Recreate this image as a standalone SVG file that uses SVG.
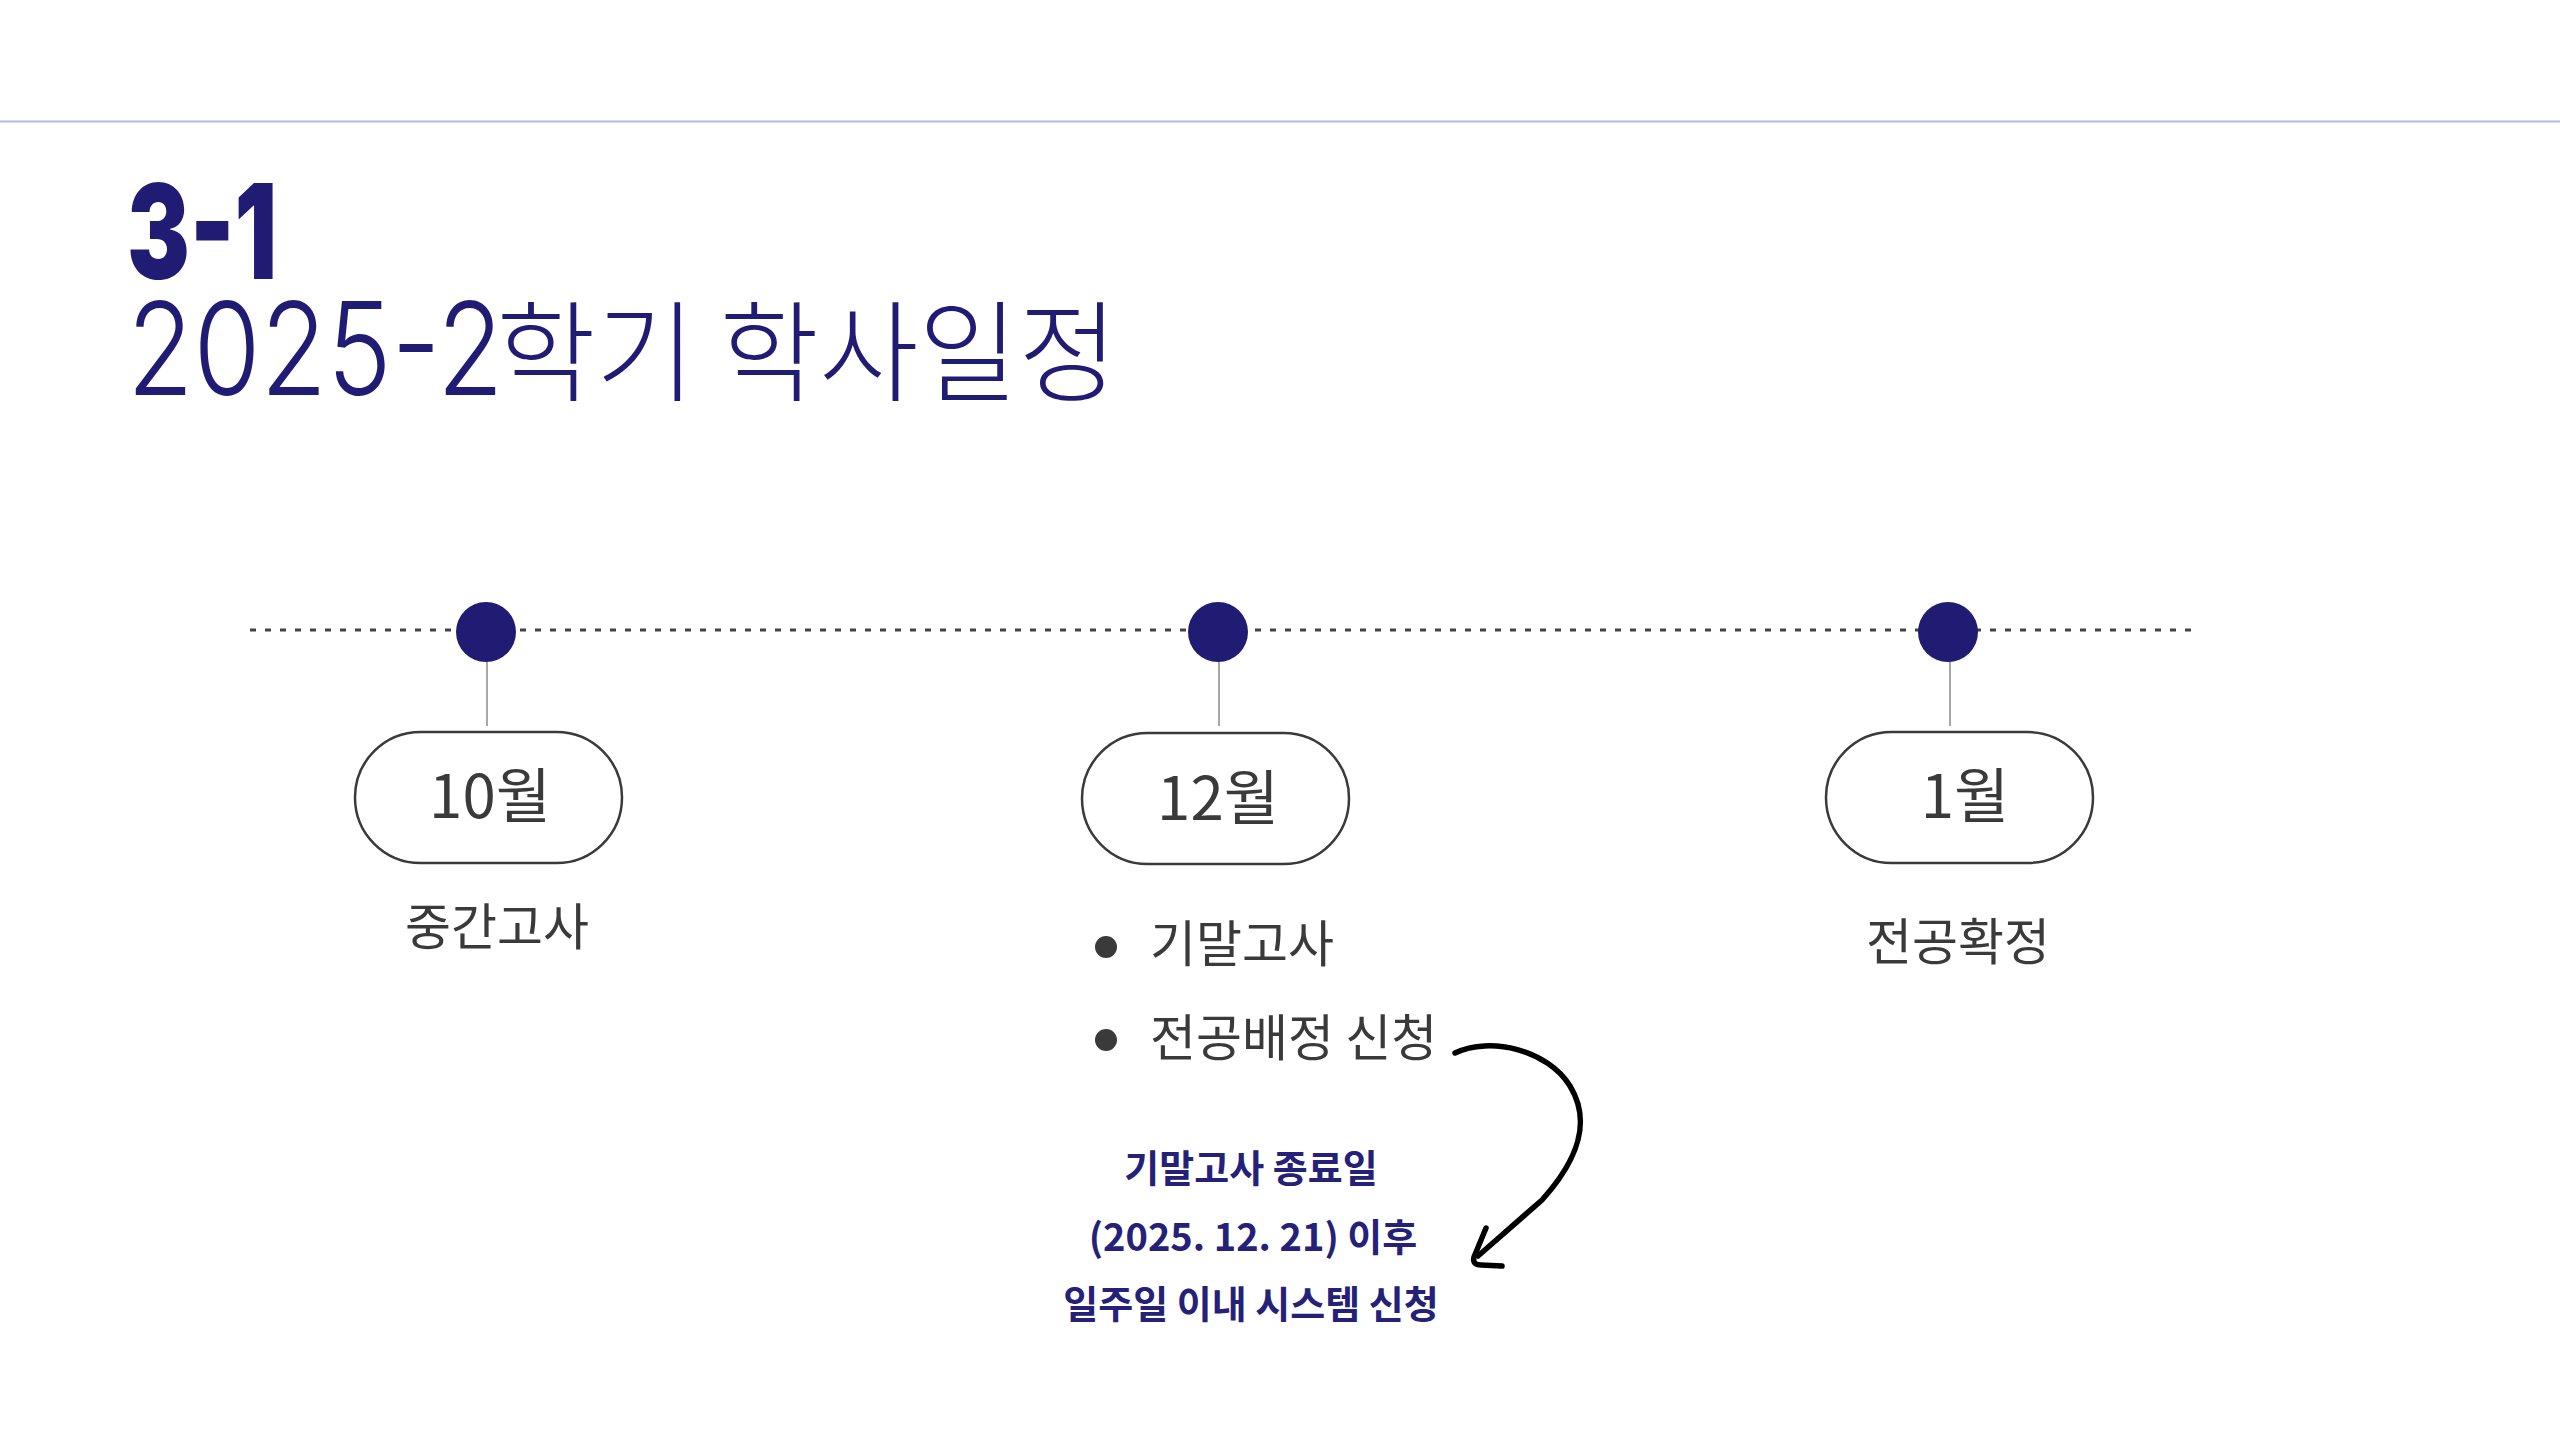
<svg xmlns="http://www.w3.org/2000/svg" width="2560" height="1440" viewBox="0 0 2560 1440">
<style>
.navy{fill:#201b73}
.kr{font-family:"Noto Sans CJK KR","Noto Sans",sans-serif}
.num{font-family:Inter,"Noto Sans CJK KR",sans-serif}
.month{font-family:"Noto Sans CJK KR",sans-serif;font-size:60px;fill:#3a3a3a;text-anchor:middle}
.label{font-family:"Noto Sans CJK KR",sans-serif;font-size:50px;fill:#3a3a3a}
.note{font-family:"Noto Sans CJK KR",sans-serif;font-size:38px;font-weight:700;fill:#252078;text-anchor:middle}
.pill{fill:#ffffff;stroke:#3a3a3a;stroke-width:2.5}
.dot{fill:#201b73}
.stem{stroke:#8a8a8a;stroke-width:1.5}
</style>
<rect width="2560" height="1440" fill="#ffffff"/>
<line x1="0" y1="121.5" x2="2560" y2="121.5" stroke="#b8b8e6" stroke-width="2"/>
<g id="title">
<text class="num navy" x="127" y="279" font-size="132" font-weight="900" textLength="150" lengthAdjust="spacingAndGlyphs">3-1</text>
<text class="num navy" transform="translate(127,395) scale(0.841,1)" font-size="129" font-weight="300">2025-2</text>
<text class="kr navy" transform="translate(496,393) scale(0.985,1)" font-size="110" font-weight="300">학기 학사일정</text>
</g>
<g id="connectors">
<line x1="250" y1="630" x2="2198" y2="630" stroke="#444444" stroke-width="3" stroke-dasharray="6 9"/>
<line class="stem" x1="487" y1="660" x2="487" y2="726"/>
<line class="stem" x1="1219" y1="660" x2="1219" y2="726"/>
<line class="stem" x1="1950" y1="660" x2="1950" y2="726"/>
<path d="M1455,1053 C1490,1036 1548,1050 1570,1086 C1592,1122 1578,1160 1542,1200 L1478,1256" fill="none" stroke="#000000" stroke-width="5.5" stroke-linecap="round" stroke-linejoin="round"/>
<path d="M1486,1228 L1474,1257 Q1472,1265 1481,1265 L1502,1266" fill="none" stroke="#000000" stroke-width="5.5" stroke-linecap="round" stroke-linejoin="round"/>
</g>
<g id="node-oct">
<circle class="dot" cx="486" cy="632" r="30"/>
<rect class="pill" x="355" y="732" width="267" height="131" rx="65.5"/>
<text class="month" x="490" y="818">10월</text>
<text class="label" x="497" y="945" text-anchor="middle">중간고사</text>
</g>
<g id="node-dec">
<circle class="dot" cx="1218" cy="632" r="30"/>
<rect class="pill" x="1082" y="733" width="267" height="131" rx="65.5"/>
<text class="month" x="1218" y="820">12월</text>
<circle cx="1106" cy="947" r="11" fill="#3a3a3a"/>
<text class="label" x="1150" y="962">기말고사</text>
<circle cx="1106" cy="1040" r="11" fill="#3a3a3a"/>
<text class="label" x="1150" y="1056">전공배정 신청</text>
</g>
<g id="node-jan">
<circle class="dot" cx="1948" cy="632" r="30"/>
<rect class="pill" x="1826" y="732" width="267" height="131" rx="65.5"/>
<text class="month" x="1965" y="818">1월</text>
<text class="label" x="1958" y="960" text-anchor="middle">전공확정</text>
</g>
<g id="note">
<text class="note" x="1251" y="1182">기말고사 종료일</text>
<text class="note" x="1253" y="1251">(2025. 12. 21) 이후</text>
<text class="note" x="1251" y="1318">일주일 이내 시스템 신청</text>
</g>
</svg>
